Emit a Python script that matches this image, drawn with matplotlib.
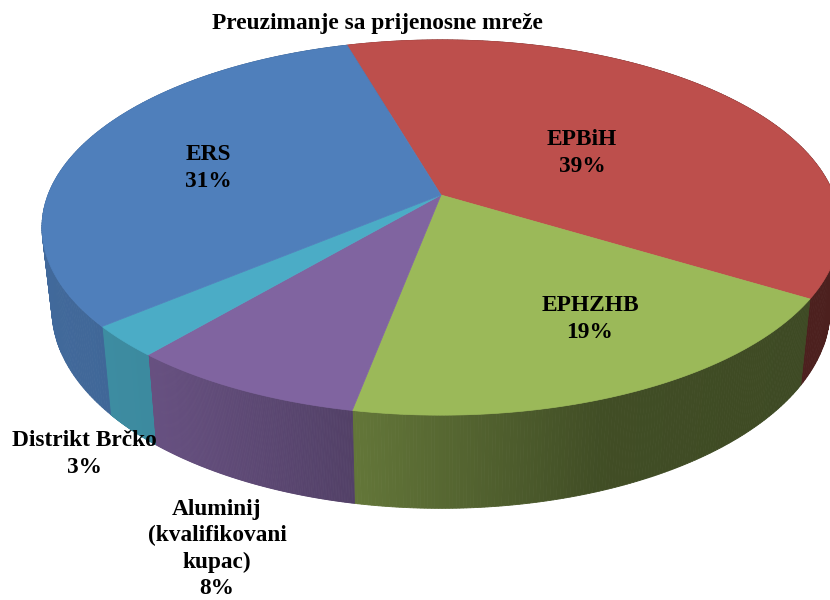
import numpy as np
import matplotlib
matplotlib.use("Agg")
import matplotlib.pyplot as plt
from matplotlib.patches import Polygon

plt.rcParams['font.family'] = ['Liberation Serif', 'DejaVu Serif']

# Data, clockwise from the blue/red border
names = ["EPBiH", "EPHZHB", "Aluminij\n(kvalifikovani\nkupac)", "Distrikt Brčko", "ERS"]
shares = [38.2, 19.3, 8.2, 2.7, 31.6]
percent_labels = ["39%", "19%", "8%", "3%", "31%"]
colors = ["#bd4f4c", "#9bb959", "#8064a0", "#4bacc6", "#4f7fbb"]
title = "Preuzimanje sa prijenosne mreže"

# Pie geometry in pixels
cx, cy = 441, 195
a, b, k = 393, 182, 0.1733
start_angle = 106.2
label_pos = [(582, 153), (590, 319), (217, 549), (84, 454), (208, 168)]


def rim(theta):
    # perspective view of the unit circle
    x = np.cos(theta)
    y = np.sin(theta)
    d = 1 + k * y
    return a * x / d, b * y / d


def wall_shade(px):
    return np.interp(px, [40, 160, 356, 600, 800], [0.83, 0.80, 0.64, 0.42, 0.40])


fig = plt.figure(figsize=(8.3, 6), dpi=100)
ax = fig.add_axes([0, 0, 1, 1])
ax.set_xlim(0, 830)
ax.set_ylim(600, 0)
ax.axis("off")

# Slice borders
fracs = np.array(shares) / sum(shares)
edges = np.deg2rad(start_angle - 360 * np.concatenate([[0], np.cumsum(fracs)]))

# Side wall first, the top hides the back part of it
for i, color in enumerate(colors):
    base = np.array(matplotlib.colors.to_rgb(color))
    t = np.linspace(edges[i], edges[i + 1], 160)
    xr, yr = rim(t)
    top_x, top_y = cx + xr, cy - yr
    bot_x, bot_y = cx + 0.975 * xr, cy - 1.06 * yr + 80
    for j in range(len(t) - 1):
        quad = [(top_x[j], top_y[j]), (top_x[j + 1], top_y[j + 1]),
                (bot_x[j + 1], bot_y[j + 1]), (bot_x[j], bot_y[j])]
        c = base * wall_shade((top_x[j] + bot_x[j]) / 2)
        ax.add_patch(Polygon(quad, closed=True, facecolor=c, edgecolor=c, lw=0.6))

# Top of the pie
for i, color in enumerate(colors):
    t = np.linspace(edges[i], edges[i + 1], 200)
    xr, yr = rim(t)
    pts = np.column_stack([np.r_[cx, cx + xr], np.r_[cy, cy - yr]])
    ax.add_patch(Polygon(pts, closed=True, facecolor=color, edgecolor=color, lw=0.5))

# Labels
for name, pct, pos in zip(names, percent_labels, label_pos):
    ax.text(pos[0], pos[1], name + "\n" + pct, ha="center", va="center",
            fontsize=16.8, fontweight="bold", color="black", linespacing=1.32)

ax.text(377, 23, title, ha="center", va="center", fontsize=16.8, fontweight="bold", color="black")

plt.savefig("out.png", dpi=100)
